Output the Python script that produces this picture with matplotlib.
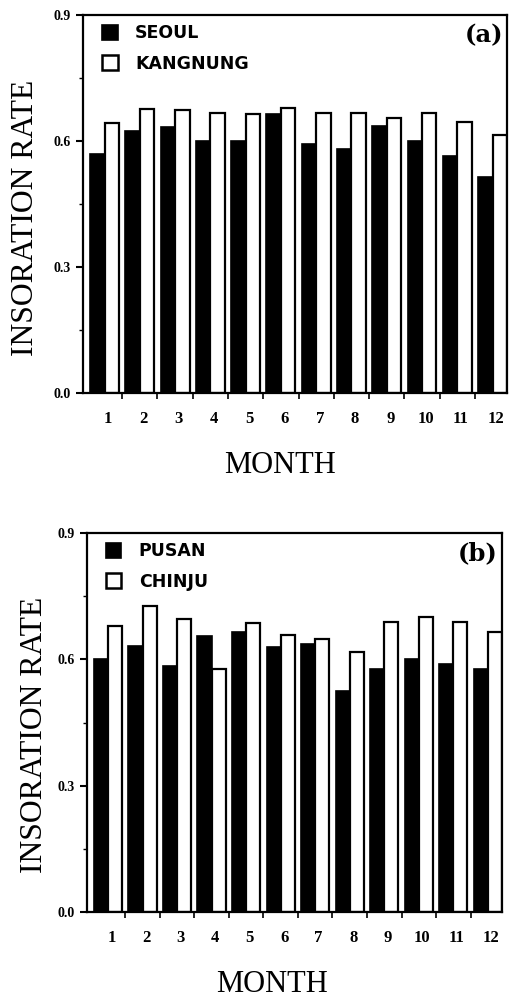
import numpy as np
import matplotlib
matplotlib.use("Agg")
import matplotlib.pyplot as plt
from matplotlib.patches import Patch
from matplotlib.ticker import FixedLocator

# === DATA ===
months = np.arange(1, 13)
month_labels = [str(m) for m in months]

seoul = [0.568, 0.624, 0.633, 0.600, 0.600, 0.665, 0.594, 0.582, 0.635, 0.600, 0.565, 0.515]
kangnung = [0.643, 0.677, 0.675, 0.666, 0.665, 0.678, 0.666, 0.666, 0.655, 0.666, 0.646, 0.615]

pusan = [0.600, 0.632, 0.584, 0.655, 0.666, 0.629, 0.637, 0.525, 0.576, 0.600, 0.588, 0.577]
chinju = [0.680, 0.726, 0.696, 0.576, 0.686, 0.657, 0.648, 0.618, 0.688, 0.700, 0.688, 0.666]

y_ticks = [0.0, 0.3, 0.6, 0.9]
y_tick_labels = ["0.0", "0.3", "0.6", "0.9"]

SERIF = "Liberation Serif"
W, H = 509, 998

fig = plt.figure(figsize=(W / 100, H / 100), dpi=100)


def px_axes(left, top, right, bottom):
    return fig.add_axes([left / W, 1 - bottom / H, (right - left) / W, (bottom - top) / H])


def draw_panel(ax, dark, light, names, tag):
    bw = 0.41
    ax.bar(months - bw, dark, width=bw, align="edge", color="black",
           edgecolor="black", linewidth=1.2)
    ax.bar(months, light, width=bw, align="edge", color="white",
           edgecolor="black", linewidth=1.6)

    ax.set_xlim(0.39, 12.41)
    ax.set_ylim(0, 0.9)

    ax.set_xticks(months + 0.1)
    ax.set_xticklabels(month_labels, fontfamily=SERIF, fontweight="bold", fontsize=12)
    ax.xaxis.set_minor_locator(FixedLocator(months[:-1] + 0.5))
    ax.tick_params(axis="x", which="major", length=0, pad=13)
    ax.tick_params(axis="x", which="minor", length=4, width=1.2, direction="out")

    ax.set_yticks(y_ticks)
    ax.set_yticklabels(y_tick_labels, fontfamily=SERIF, fontweight="bold", fontsize=10)
    ax.yaxis.set_minor_locator(FixedLocator([0.15, 0.45, 0.75]))
    ax.tick_params(axis="y", which="major", length=5, width=1.5, direction="out", pad=4)
    ax.tick_params(axis="y", which="minor", length=3, width=1.0, direction="out")

    for s in ax.spines.values():
        s.set_linewidth(1.6)

    handles = [Patch(facecolor="black", edgecolor="black", linewidth=1.2),
               Patch(facecolor="white", edgecolor="black", linewidth=1.8)]
    ax.legend(handles, names, loc="upper left", bbox_to_anchor=(0.045, 0.975),
              frameon=False, borderaxespad=0, borderpad=0,
              handlelength=0.9, handleheight=0.9, handletextpad=1.0,
              labelspacing=0.7, prop={"weight": "bold", "size": 12.5})

    ax.text(0.99, 0.947, tag, transform=ax.transAxes, ha="right", va="center",
            fontfamily="DejaVu Serif", fontweight="bold", fontsize=17.5)


# panel (a)
ax1 = px_axes(83, 15, 507, 393)
draw_panel(ax1, seoul, kangnung, ["SEOUL", "KANGNUNG"], "(a)")

# panel (b)
ax2 = px_axes(87, 533, 502, 912)
draw_panel(ax2, pusan, chinju, ["PUSAN", "CHINJU"], "(b)")

# axis titles
fig.text(33 / W, 1 - 218 / H, "INSORATION RATE", rotation=90, rotation_mode="anchor",
         ha="center", va="baseline", fontfamily=SERIF, fontsize=22.8)
fig.text(42 / W, 1 - 735 / H, "INSORATION RATE", rotation=90, rotation_mode="anchor",
         ha="center", va="baseline", fontfamily=SERIF, fontsize=22.8)
fig.text(280 / W, 1 - 473 / H, "MONTH", ha="center", va="baseline",
         fontfamily=SERIF, fontsize=22)
fig.text(272 / W, 1 - 992 / H, "MONTH", ha="center", va="baseline",
         fontfamily=SERIF, fontsize=22)

fig.savefig("out.png", dpi=100)
